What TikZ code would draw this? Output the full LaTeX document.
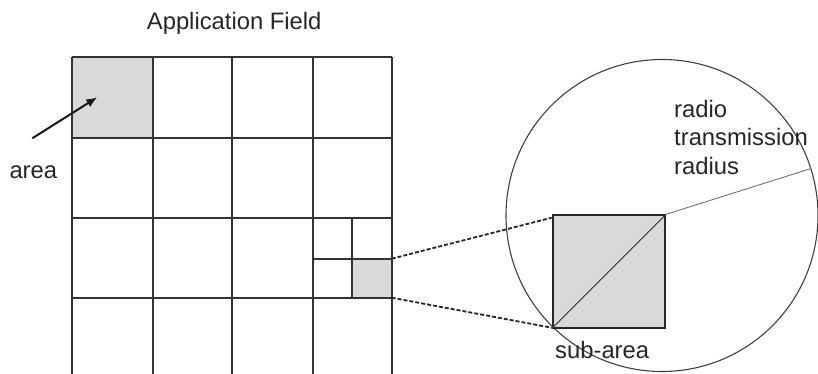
\documentclass[tikz,border=0pt]{standalone}
\usepackage{fontspec}
\setmainfont{Liberation Sans}
\usetikzlibrary{arrows.meta,calc}
\begin{document}
\begin{tikzpicture}[x=1pt,y=-1pt,
  gridline/.style={line width=1.9pt, draw=black!80},
  cellfill/.style={fill=black!15},
  lbl/.style={font=\fontsize{23.8}{28}\selectfont, text=black!85, inner sep=0pt, anchor=base west},
  zoomline/.style={line width=1.8pt, draw=black!85, dash pattern=on 4pt off 2pt},
  thinline/.style={line width=1.1pt, draw=black!75}]
\useasboundingbox (0,0) rectangle (818,374);
% shaded cells
\fill[cellfill] (72,57) rectangle (152.7,137.7);
\fill[cellfill] (352.3,258.7) rectangle (391.7,297.7);
% grid
\foreach \x in {72,152.7,232.3,312.7,391.7} \draw[gridline] (\x,57) -- (\x,374);
\foreach \y in {57,137.7,217.7,297.7} \draw[gridline] (72,\y) -- (391.7,\y);
\draw[gridline] (352.3,217.7) -- (352.3,297.7);
\draw[gridline] (312.7,258.7) -- (391.7,258.7);
% sub-area corners on grid
\coordinate (subTR) at (391.7,258.7);
\coordinate (subBR) at (391.7,297.7);
% title and labels
\node[lbl] (title) at (146.7,29.3) {Application Field};
\node[lbl] (area) at (9.3,178.3) {area};
\coordinate (arrS) at (32.3,138.3);
\coordinate (arrE) at (97.3,97.3);
\draw[line width=2pt, draw=black!90, -{Latex[length=11pt,width=9pt]}] (arrS) -- (arrE);
% circle
\coordinate (C) at (662,215.5);
\draw[thinline] (C) ellipse [x radius=156, y radius=156];
% zoomed sub-area square
\node[draw=black!85, line width=1.8pt, fill=black!15, minimum size=112.6pt, inner sep=0pt, anchor=north west] (sq) at (551.7,214.3) {};
\draw[thinline] (sq.south west) -- (sq.north east);
\coordinate (rend) at ($(C)+(-17.5:156)$);
\draw[line width=0.9pt, draw=black!55] (sq.north east) -- (rend);
% dashed connectors
\draw[zoomline] (subTR) -- ([yshift=-3.4pt]sq.north west);
\draw[zoomline] (subBR) -- ([yshift=1pt]sq.south west);
% labels
\node[lbl] (r1) at (674,117.3) {radio};
\node[lbl] (r2) at (674,146) {transmission};
\node[lbl] (r3) at (674,174.3) {radius};
\node[lbl] (sub) at (555,358.3) {sub-area};
\end{tikzpicture}
\end{document}
